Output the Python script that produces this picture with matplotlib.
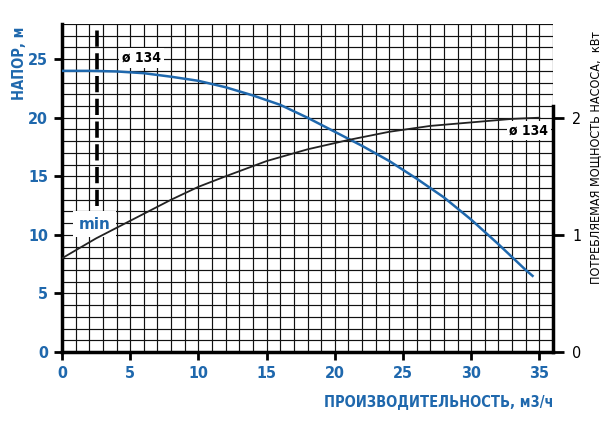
import matplotlib
matplotlib.use("Agg")
import matplotlib.pyplot as plt
from matplotlib.ticker import MultipleLocator

# Напорная характеристика (м) и потребляемая мощность (кВт)
q_head = [0, 2, 4, 6, 8, 10, 12, 14, 16, 18, 20, 22, 24, 26, 28, 30, 32, 34, 34.5]
head = [24.0, 24.0, 23.95, 23.8, 23.5, 23.15, 22.6, 21.9, 21.1, 20.0, 18.8,
        17.6, 16.3, 14.8, 13.2, 11.3, 9.2, 7.0, 6.5]
q_power = [0, 2.5, 5, 8, 10, 12, 15, 18, 21, 24, 27, 30, 33, 35]
power = [0.80, 0.97, 1.12, 1.30, 1.41, 1.50, 1.63, 1.73, 1.81, 1.88, 1.93, 1.96, 1.99, 2.00]
q_min = 2.6

blue = "#1f68ad"
font = dict(family="DejaVu Sans", stretch="condensed", weight="bold")

fig = plt.figure(figsize=(6.16, 4.29), dpi=100)
ax = fig.add_axes([62 / 616, 77 / 429, 491 / 616, 328 / 429])
ax2 = ax.twinx()

ax.set_xlim(0, 36)
ax.set_ylim(0, 28)
ax2.set_ylim(0, 2.8)

ax.xaxis.set_major_locator(MultipleLocator(5))
ax.xaxis.set_minor_locator(MultipleLocator(1))
ax.yaxis.set_major_locator(MultipleLocator(5))
ax.yaxis.set_minor_locator(MultipleLocator(1))
ax.grid(which="both", color="#111111", lw=0.85, zorder=0)
ax.set_axisbelow(True)
ax2.set_yticks([0, 1, 2])

for s in ["top", "right"]:
    ax.spines[s].set_visible(False)
for s in ["top", "left", "bottom"]:
    ax2.spines[s].set_visible(False)
ax.spines["left"].set_linewidth(2.5)
ax.spines["bottom"].set_linewidth(2.5)
ax2.spines["right"].set_linewidth(2.5)
ax2.spines["right"].set_bounds(0, 2.1)

ax.tick_params(which="major", length=6, width=2, colors=blue, labelsize=11.5, pad=4)
ax.tick_params(which="major", color="black")
ax.tick_params(which="minor", length=0)
ax2.tick_params(length=8, width=2, labelsize=11.5, pad=6)
for lab in ax.get_xticklabels() + ax.get_yticklabels():
    lab.set(**font)
for lab in ax2.get_yticklabels():
    lab.set(family="DejaVu Sans", stretch="condensed")

# кривые
ax.plot(q_head, head, color=blue, lw=1.8, zorder=4)
ax2.plot(q_power, power, color="#222222", lw=1.3, zorder=4)
ax.plot([q_min, q_min], [12.5, 28], color="black", lw=2.6, ls=(0, (4.5, 1.8)), zorder=3)

box = dict(facecolor="white", edgecolor="none", pad=2)
ax.text(4.4, 25.1, "ø 134", fontsize=10, va="center", ha="left", bbox=box, zorder=5, **font)
ax.text(32.8, 18.9, "ø 134", fontsize=10, va="center", ha="left", bbox=box, zorder=5, **font)
ax.text(2.4, 10.9, "min", fontsize=11, color=blue, va="center", ha="center",
        bbox=dict(facecolor="white", edgecolor="none", pad=4), zorder=3,
        family="DejaVu Sans", weight="bold")

fig.text(20 / 616, 1 - 63 / 429, "НАПОР, м", rotation=90, color=blue, fontsize=10.5,
         ha="center", va="center", **font)
fig.text(596 / 616, 1 - 158 / 429, "ПОТРЕБЛЯЕМАЯ МОЩНОСТЬ НАСОСА,  кВт", rotation=90,
         color="black", fontsize=9, ha="center", va="center",
         family="DejaVu Sans", stretch="condensed")
fig.text(553 / 616, 1 - 402 / 429, "ПРОИЗВОДИТЕЛЬНОСТЬ, м3/ч", color=blue, fontsize=10.5,
         ha="right", va="center", **font)

fig.savefig("out.png", dpi=100)
